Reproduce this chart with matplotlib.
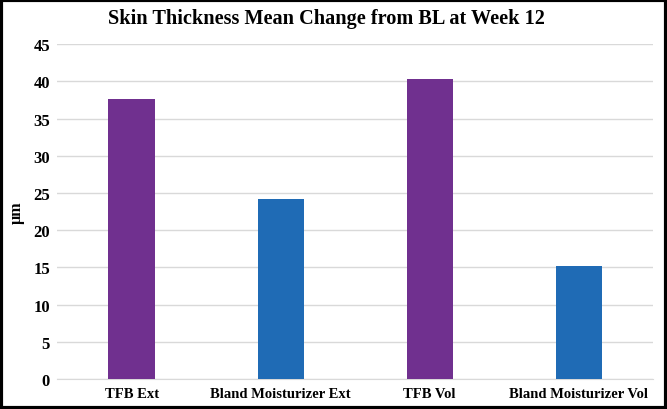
import matplotlib.pyplot as plt
from matplotlib.patches import Rectangle

plt.rcParams['font.family'] = ['Liberation Serif', 'DejaVu Serif']
plt.rcParams['font.weight'] = 'bold'

groups = ["TFB Ext", "Bland Moisturizer Ext", "TFB Vol", "Bland Moisturizer Vol"]
change = [37.6, 24.2, 40.3, 15.2]
colors = ['#70308f', '#1f6bb5', '#70308f', '#1f6bb5']

fig = plt.figure(figsize=(6.67, 4.10), dpi=100)
ax = fig.add_axes([0.0855, 0.073, 0.894, 0.817])

ax.bar(range(len(groups)), change, width=0.31, color=colors, zorder=3)

ax.set_xlim(-0.5, len(groups) - 0.5)
ax.set_ylim(0, 45)
ax.set_yticks(range(0, 46, 5))
ax.set_xticks(range(len(groups)))
ax.set_xticklabels(groups, fontsize=10.5, fontweight='bold')
ax.tick_params(axis='y', labelsize=12, length=0, pad=5)
ax.tick_params(axis='x', length=0, pad=6)

ax.grid(axis='y', color='#d9d9d9', linewidth=1, zorder=0)
for s in ['top', 'right', 'left']:
    ax.spines[s].set_visible(False)
ax.spines['bottom'].set_color('#d9d9d9')

ax.set_ylabel("µm", fontsize=11.5, fontweight='bold', labelpad=6)
fig.suptitle("Skin Thickness Mean Change from BL at Week 12",
             fontsize=14.6, fontweight='bold', x=0.489, y=0.977)

# black frame around the whole figure
fig.patches.append(Rectangle((0.002, 0.003), 0.996, 0.994, transform=fig.transFigure,
                             fill=False, edgecolor='black', linewidth=3))

fig.savefig("out.png", dpi=100)
